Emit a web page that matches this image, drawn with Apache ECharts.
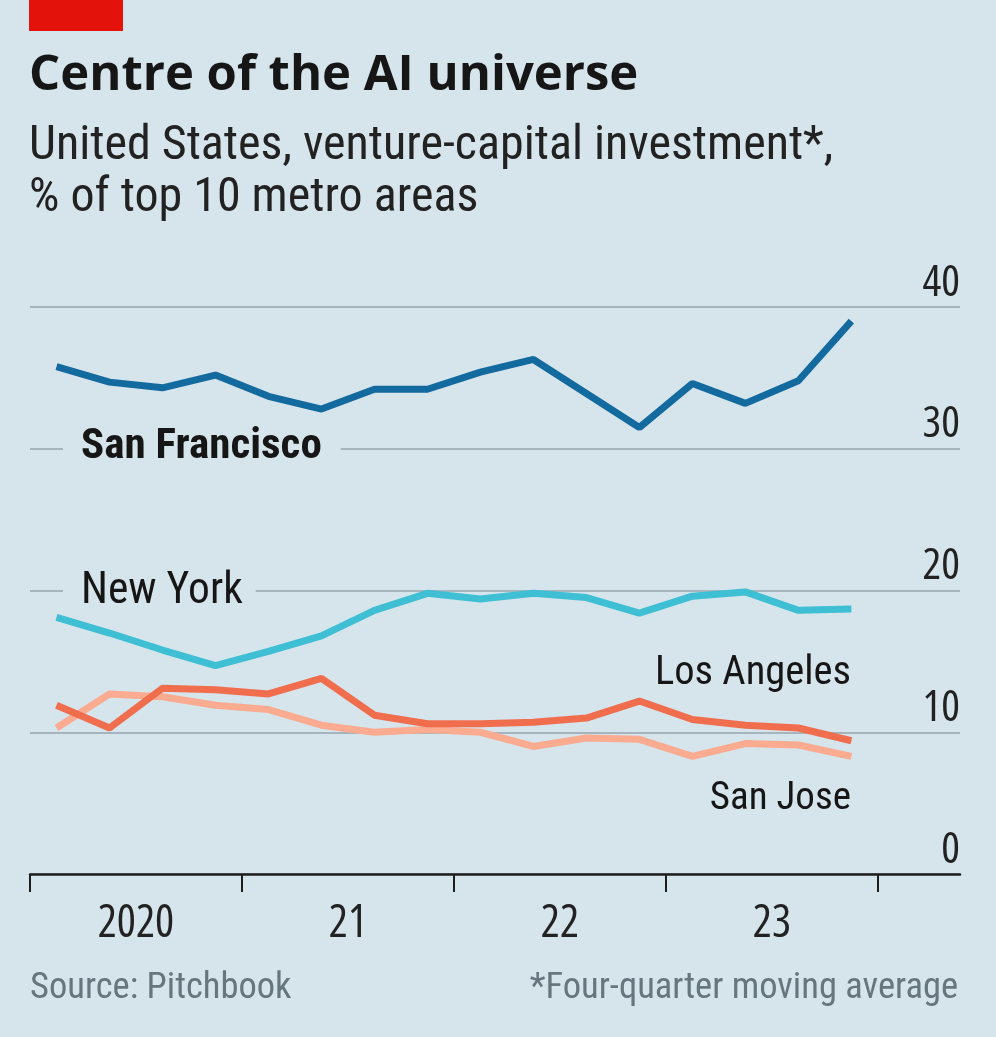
<!DOCTYPE html>
<html><head><meta charset="utf-8">
<script src="https://cdn.jsdelivr.net/npm/echarts@6/dist/echarts.min.js"></script>
<style>html,body{margin:0;padding:0;background:#d6e4ec}#chart{width:996px;height:1037px}</style>
</head><body><div id="chart"></div>
<script>
// ---- data ----
const quarters = ['2020 Q1','2020 Q2','2020 Q3','2020 Q4','2021 Q1','2021 Q2','2021 Q3','2021 Q4',
                  '2022 Q1','2022 Q2','2022 Q3','2022 Q4','2023 Q1','2023 Q2','2023 Q3','2023 Q4'];
const yearLabels = ['2020','21','22','23'];
const yMin = 0, yMax = 40, yStep = 10;
const sanFrancisco = [35.8,34.7,34.3,35.2,33.7,32.8,34.2,34.2,35.4,36.3,33.9,31.5,34.6,33.2,34.8,39.0];
const newYork      = [18.1,17.0,15.8,14.7,15.7,16.8,18.6,19.8,19.4,19.8,19.5,18.4,19.6,19.9,18.6,18.7];
const losAngeles   = [11.9,10.3,13.1,13.0,12.7,13.8,11.2,10.6,10.6,10.7,11.0,12.2,10.9,10.5,10.3,9.4];
const sanJose      = [10.3,12.7,12.5,11.9,11.6,10.5,10.0,10.2,10.0,9.0,9.6,9.5,8.3,9.2,9.1,8.3];

// ---- styles ----
const BG = '#d6e4ec', INK = '#161616', GRID = '#a5b4bd', GREY = '#66767f';
const COND = "'Open Sans'";
const RC = "'Roboto Condensed'";
const toPts = arr => arr.map((v, i) => [i + 0.5, v]);
const xMax = 17.55; // plot extends past the last quarter, as in the original

const chart = echarts.init(document.getElementById('chart'), null, {renderer: 'canvas'});
function txt(x, y, text, font, fill, align, extra) {
  return Object.assign({type: 'text', x: x, y: y, z: 100,
    style: Object.assign({text: text, font: font, fill: fill, align: align, textAlign: align,
      verticalAlign: 'middle', textVerticalAlign: 'middle'}, extra || {})});
}
chart.setOption({
  backgroundColor: BG,
  animation: false,
  grid: {left: 30, right: 36, top: 307, bottom: 163, containLabel: false},
  xAxis: {
    type: 'value', min: 0, max: xMax,
    axisLine: {show: true, onZero: true, lineStyle: {color: '#1e1e1e', width: 2.5}},
    axisTick: {show: true, length: 18, lineStyle: {color: '#1e1e1e', width: 2},
      customValues: yearLabels.map((y, k) => k * 4).concat([yearLabels.length * 4])},
    axisLabel: {show: true, customValues: yearLabels.map((y, k) => k * 4 + 2),
      formatter: v => yearLabels[Math.round((v - 2) / 4)] || '',
      color: '#222', fontSize: 45, fontFamily: COND, fontStyle: 'condensed', margin: 28},
    splitLine: {show: false}
  },
  yAxis: {
    type: 'value', min: yMin, max: yMax, interval: yStep, position: 'right',
    axisLine: {show: false}, axisTick: {show: false},
    axisLabel: {inside: true, margin: 0, verticalAlign: 'bottom', align: 'right',
      color: '#222', fontSize: 44, fontFamily: COND, fontStyle: 'condensed', padding: [0, 0, 2, 0]},
    splitLine: {show: true, lineStyle: {color: GRID, width: 2}}
  },
  series: [
    {name: 'San Jose', type: 'line', data: toPts(sanJose), symbol: 'none', z: 3,
      lineStyle: {color: '#fbab8f', width: 7}},
    {name: 'Los Angeles', type: 'line', data: toPts(losAngeles), symbol: 'none', z: 4,
      lineStyle: {color: '#f06e4e', width: 7}},
    {name: 'New York', type: 'line', data: toPts(newYork), symbol: 'none', z: 5,
      lineStyle: {color: '#3ebfd3', width: 7}},
    {name: 'San Francisco', type: 'line', data: toPts(sanFrancisco), symbol: 'none', z: 6,
      lineStyle: {color: '#126a9f', width: 7}}
  ],
  graphic: [
    {type: 'rect', shape: {x: 29, y: 0, width: 94, height: 31}, style: {fill: '#e3120b'}},
    txt(29, 76, 'Centre of the AI universe', "bold 49px 'Open Sans'", INK, 'left'),
    txt(29, 147, 'United States, venture-capital investment*,', "normal 48px " + RC, '#222', 'left'),
    txt(29, 199, '% of top 10 metro areas', "normal 48px " + RC, '#222', 'left'),
    txt(30, 989, 'Source: Pitchbook', "normal 36.5px " + RC, GREY, 'left'),
    txt(958, 989, '*Four-quarter moving average', "normal 36.5px " + RC, GREY, 'right'),
    txt(63, 447, 'San Francisco', "bold 43px " + RC, INK, 'left',
      {backgroundColor: BG, padding: [0, 19, 0, 18]}),
    txt(63, 592, 'New York', "normal 43.5px " + RC, INK, 'left',
      {backgroundColor: BG, padding: [0, 13, 0, 18]}),
    txt(851, 674, 'Los Angeles', "normal 40.5px " + RC, INK, 'right'),
    txt(851, 799, 'San Jose', "normal 39px " + RC, INK, 'right')
  ]
});
</script></body></html>
